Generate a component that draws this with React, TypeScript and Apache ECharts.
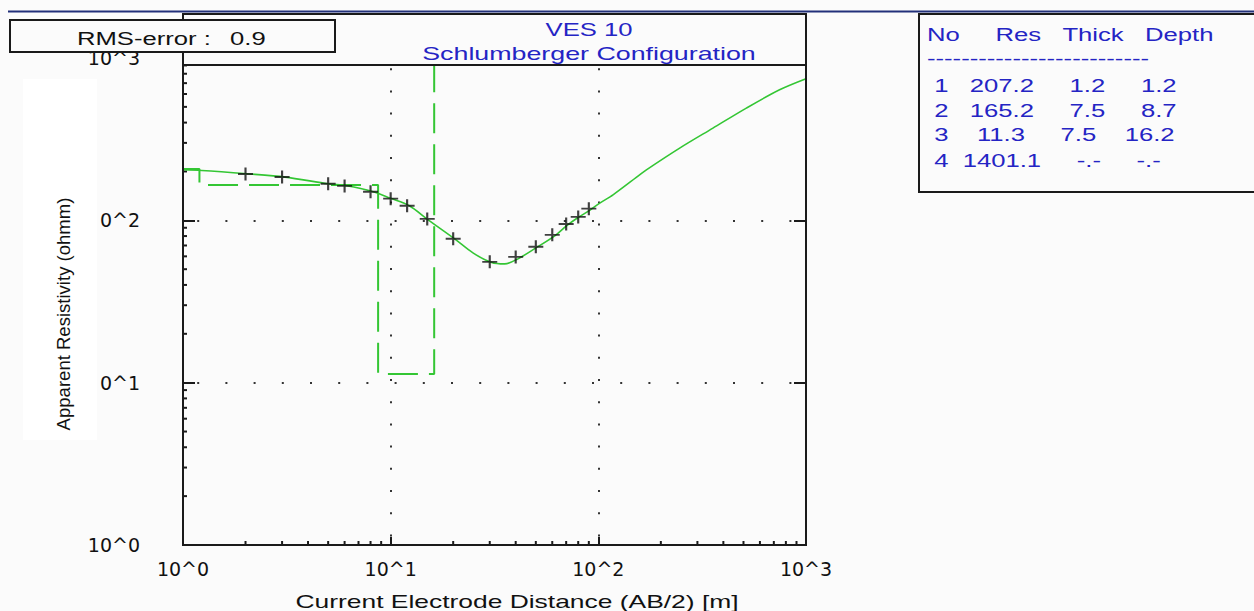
import React, { useEffect, useRef } from 'react';
import * as echarts from 'echarts';

const W = 1254;
const H = 611;
const BG = '#fbfbfb';
const GREEN = '#34c634';
const BLUE = '#2424c4';
const INK = '#1a1a1a';

// Observed field data: AB/2 [m] and apparent resistivity [ohm-m]
const obsAB2 = [2, 3, 5, 6, 8, 10, 12, 15, 20, 30, 40, 50, 60, 70, 80, 90];
const obsRho = [193, 185, 168, 163, 150, 136, 123, 102, 77, 55.5, 59.5, 68.7, 81.4, 95, 105, 118];

// Model response curve
const curveAB2 = [1, 1.23, 2.03, 3.1, 5.0, 6.13, 8.18, 10.0, 12.3, 15.15, 20.4, 24.9, 30.6, 35.4, 40.6, 50.7, 61.7, 70.2, 79.9, 91.6, 101.6, 117.7, 158, 170.4, 246.4, 356.4, 516, 746, 1000];
const curveRho = [204.8, 202.8, 193.5, 184.6, 167.9, 163.2, 150.5, 136.6, 122.9, 100.7, 76.6, 63.0, 55.0, 53.9, 57.5, 68.4, 80.3, 92.5, 104.1, 116.1, 127.6, 143.6, 190.7, 204.8, 278.6, 370, 491.5, 637, 745];

// Layer model
const layerNo = [1, 2, 3, 4];
const layerRes = [207.2, 165.2, 11.3, 1401.1];
const layerThick: (number | null)[] = [1.2, 7.5, 7.5, null];
const layerDepth: (number | null)[] = [1.2, 8.7, 16.2, null];

// Axis tick labels
const xTickLabels = ['10^0', '10^1', '10^2', '10^3'];
const yTickLabels = ['10^0', '0^1', '0^2', '10^3'];
const minorTickValues = [2, 3, 4, 5, 6, 7, 8, 9, 20, 30, 40, 50, 60, 70, 80, 90, 200, 300, 400, 500, 600, 700, 800, 900];

const titleLine1 = 'VES 10';
const titleLine2 = 'Schlumberger Configuration';
const rmsLabel = 'RMS-error :';
const rmsValue = '0.9';
const xName = 'Current Electrode Distance (AB/2) [m]';
const yName = 'Apparent Resistivity (ohmm)';
const tableHeader = 'No     Res   Thick   Depth';

export default function App() {
  const ref = useRef<HTMLDivElement>(null);

  useEffect(() => {
    document.body.style.margin = '0';
    document.body.style.background = BG;
    const chart = echarts.init(ref.current!, null, { renderer: 'svg' });

    const ctx = document.createElement('canvas').getContext('2d')!;
    const FONT = 'Liberation Sans';
    const FS = 19;
    const SX = 1.35;
    ctx.font = `${FS}px '${FONT}'`;
    const measure = (s: string) => ctx.measureText(s).width;

    const stepData: number[][] = [[1, layerRes[0]]];
    for (let i = 0; i < layerRes.length - 1; i++) {
      const d = layerDepth[i] as number;
      stepData.push([d, layerRes[i]]);
      stepData.push([d, layerRes[i + 1]]);
    }

    const fmt = (v: number | null) => (v == null ? '-.-' : v.toFixed(1));
    const tableLines: string[] = [tableHeader];
    layerNo.forEach((n, i) => {
      tableLines.push([
        String(n).padStart(2),
        fmt(layerRes[i]).padStart(7),
        fmt(layerThick[i]).padStart(7),
        fmt(layerDepth[i]).padStart(7),
      ].join(' '));
    });
    const tx0 = 927;
    const lineY = [34.5, 86, 110.5, 135, 160.5];
    const tableTexts: any[] = [];
    tableLines.forEach((line, li) => {
      const re = /\S+/g;
      let m: RegExpExecArray | null;
      while ((m = re.exec(line))) {
        tableTexts.push({
          type: 'text',
          x: tx0 + SX * measure(line.slice(0, m.index)),
          y: lineY[li],
          scaleX: SX,
          z: 120,
          style: { text: m[0], fontFamily: FONT, fontSize: FS, fill: BLUE, align: 'left', verticalAlign: 'middle' },
        });
      }
    });
    tableTexts.push({
      type: 'text', x: tx0, y: 58.5, scaleX: SX, z: 120,
      style: { text: '-'.repeat(26), fontFamily: FONT, fontSize: FS, fill: BLUE, align: 'left', verticalAlign: 'middle' },
    });

    const tickLabelStyle = { fontFamily: 'DejaVu Sans', fontSize: 19, color: '#111' };

    const option: any = {
      animation: false,
      backgroundColor: BG,
      grid: { left: 183, right: W - 806, top: 58, bottom: H - 545, containLabel: false },
      xAxis: {
        type: 'log', logBase: 10, min: 1, max: 1000, splitNumber: 3,
        axisLine: { show: false },
        axisTick: { show: true, inside: true, length: 8, lineStyle: { color: INK, width: 2 } },
        axisLabel: { ...tickLabelStyle, margin: 14, formatter: (v: number) => xTickLabels[Math.round(Math.log10(v))] },
        splitLine: { show: true, lineStyle: { color: '#333', width: 2, type: [2, 20.2], dashOffset: 12.2 } },
      },
      yAxis: [
        {
          type: 'log', logBase: 10, min: 1, max: 1000, splitNumber: 3, position: 'left',
          axisLine: { show: false },
          axisTick: { show: true, inside: true, length: 12, lineStyle: { color: INK, width: 2 } },
          axisLabel: { ...tickLabelStyle, margin: 43, padding: [4, 0, 0, 0], formatter: (v: number) => yTickLabels[Math.round(Math.log10(v))] },
          splitLine: { show: true, lineStyle: { color: '#333', width: 2, type: [2, 26.2], dashOffset: 14.4 } },
        },
        {
          type: 'log', logBase: 10, min: 1, max: 1000, splitNumber: 3, position: 'right',
          axisLine: { show: false },
          axisTick: { show: true, inside: true, length: 12, lineStyle: { color: INK, width: 2 } },
          axisLabel: { show: false },
          splitLine: { show: false },
        },
      ],
      series: [
        {
          type: 'custom', silent: true, clip: false, z: 4,
          data: minorTickValues.map((v) => [v, 1]),
          renderItem: (_p: any, api: any) => {
            const c = api.coord([api.value(0), api.value(1)]);
            return { type: 'line', shape: { x1: c[0], y1: c[1], x2: c[0], y2: c[1] - 4 }, style: { stroke: INK, lineWidth: 2 } };
          },
        },
        {
          type: 'custom', silent: true, clip: false, z: 4,
          data: minorTickValues.map((v) => [1, v]),
          renderItem: (_p: any, api: any) => {
            const c = api.coord([api.value(0), api.value(1)]);
            return { type: 'line', shape: { x1: c[0], y1: c[1], x2: c[0] + 4, y2: c[1] }, style: { stroke: INK, lineWidth: 2 } };
          },
        },
        {
          type: 'line', data: stepData, showSymbol: false, symbol: 'none', z: 5,
          lineStyle: { color: GREEN, width: 2, type: [30, 11] },
        },
        {
          type: 'line', data: curveAB2.map((x, i) => [x, curveRho[i]]), showSymbol: false, symbol: 'none',
          smooth: 0.3, z: 6,
          lineStyle: { color: GREEN, width: 1.6 },
        },
        {
          type: 'scatter', data: obsAB2.map((x, i) => [x, obsRho[i]]), z: 7,
          symbol: 'path://M0,6H14V8H0Z M6,0H8V14H6Z',
          symbolSize: [15, 13],
          itemStyle: { color: '#111' },
        },
      ],
      graphic: [
        { type: 'rect', z: 100, shape: { x: 8, y: 10.5, width: W - 8, height: 2 }, style: { fill: '#22307a' } },
        { type: 'rect', z: 100, shape: { x: 23, y: 79, width: 74, height: 361 }, style: { fill: '#ffffff' } },
        { type: 'rect', z: 101, shape: { x: 183, y: 14, width: 623, height: 531 }, style: { fill: 'none', stroke: INK, lineWidth: 2 } },
        { type: 'rect', z: 102, shape: { x: 183, y: 14, width: 623, height: 51 }, style: { fill: BG, stroke: INK, lineWidth: 2 } },
        { type: 'rect', z: 103, shape: { x: 10, y: 20, width: 325, height: 32 }, style: { fill: BG, stroke: INK, lineWidth: 2 } },
        { type: 'rect', z: 103, shape: { x: 919, y: 14, width: 400, height: 178 }, style: { fill: BG, stroke: INK, lineWidth: 2 } },
        { type: 'text', z: 110, x: 589, y: 29.5, scaleX: SX, style: { text: titleLine1, fontFamily: FONT, fontSize: FS, fill: BLUE, align: 'center', verticalAlign: 'middle' } },
        { type: 'text', z: 110, x: 589, y: 53, scaleX: 1.41, style: { text: titleLine2, fontFamily: FONT, fontSize: FS, fill: BLUE, align: 'center', verticalAlign: 'middle' } },
        { type: 'text', z: 110, x: 77, y: 38.5, scaleX: SX, style: { text: rmsLabel, fontFamily: FONT, fontSize: FS, fill: '#111', align: 'left', verticalAlign: 'middle' } },
        { type: 'text', z: 110, x: 230, y: 38.5, scaleX: SX, style: { text: rmsValue, fontFamily: FONT, fontSize: FS, fill: '#111', align: 'left', verticalAlign: 'middle' } },
        { type: 'text', z: 110, x: 517, y: 601, scaleX: 1.39, style: { text: xName, fontFamily: FONT, fontSize: FS, fill: '#111', align: 'center', verticalAlign: 'middle' } },
        { type: 'text', z: 110, x: 63.5, y: 314, rotation: Math.PI / 2, scaleX: 1.03, style: { text: yName, fontFamily: FONT, fontSize: 18, fill: '#111', align: 'center', verticalAlign: 'middle' } },
        ...tableTexts,
      ],
    };
    chart.setOption(option);
    return () => chart.dispose();
  }, []);

  return (
    <div
      ref={ref}
      style={{ position: 'fixed', left: 0, top: 0, width: W, height: H, background: BG }}
    />
  );
}
